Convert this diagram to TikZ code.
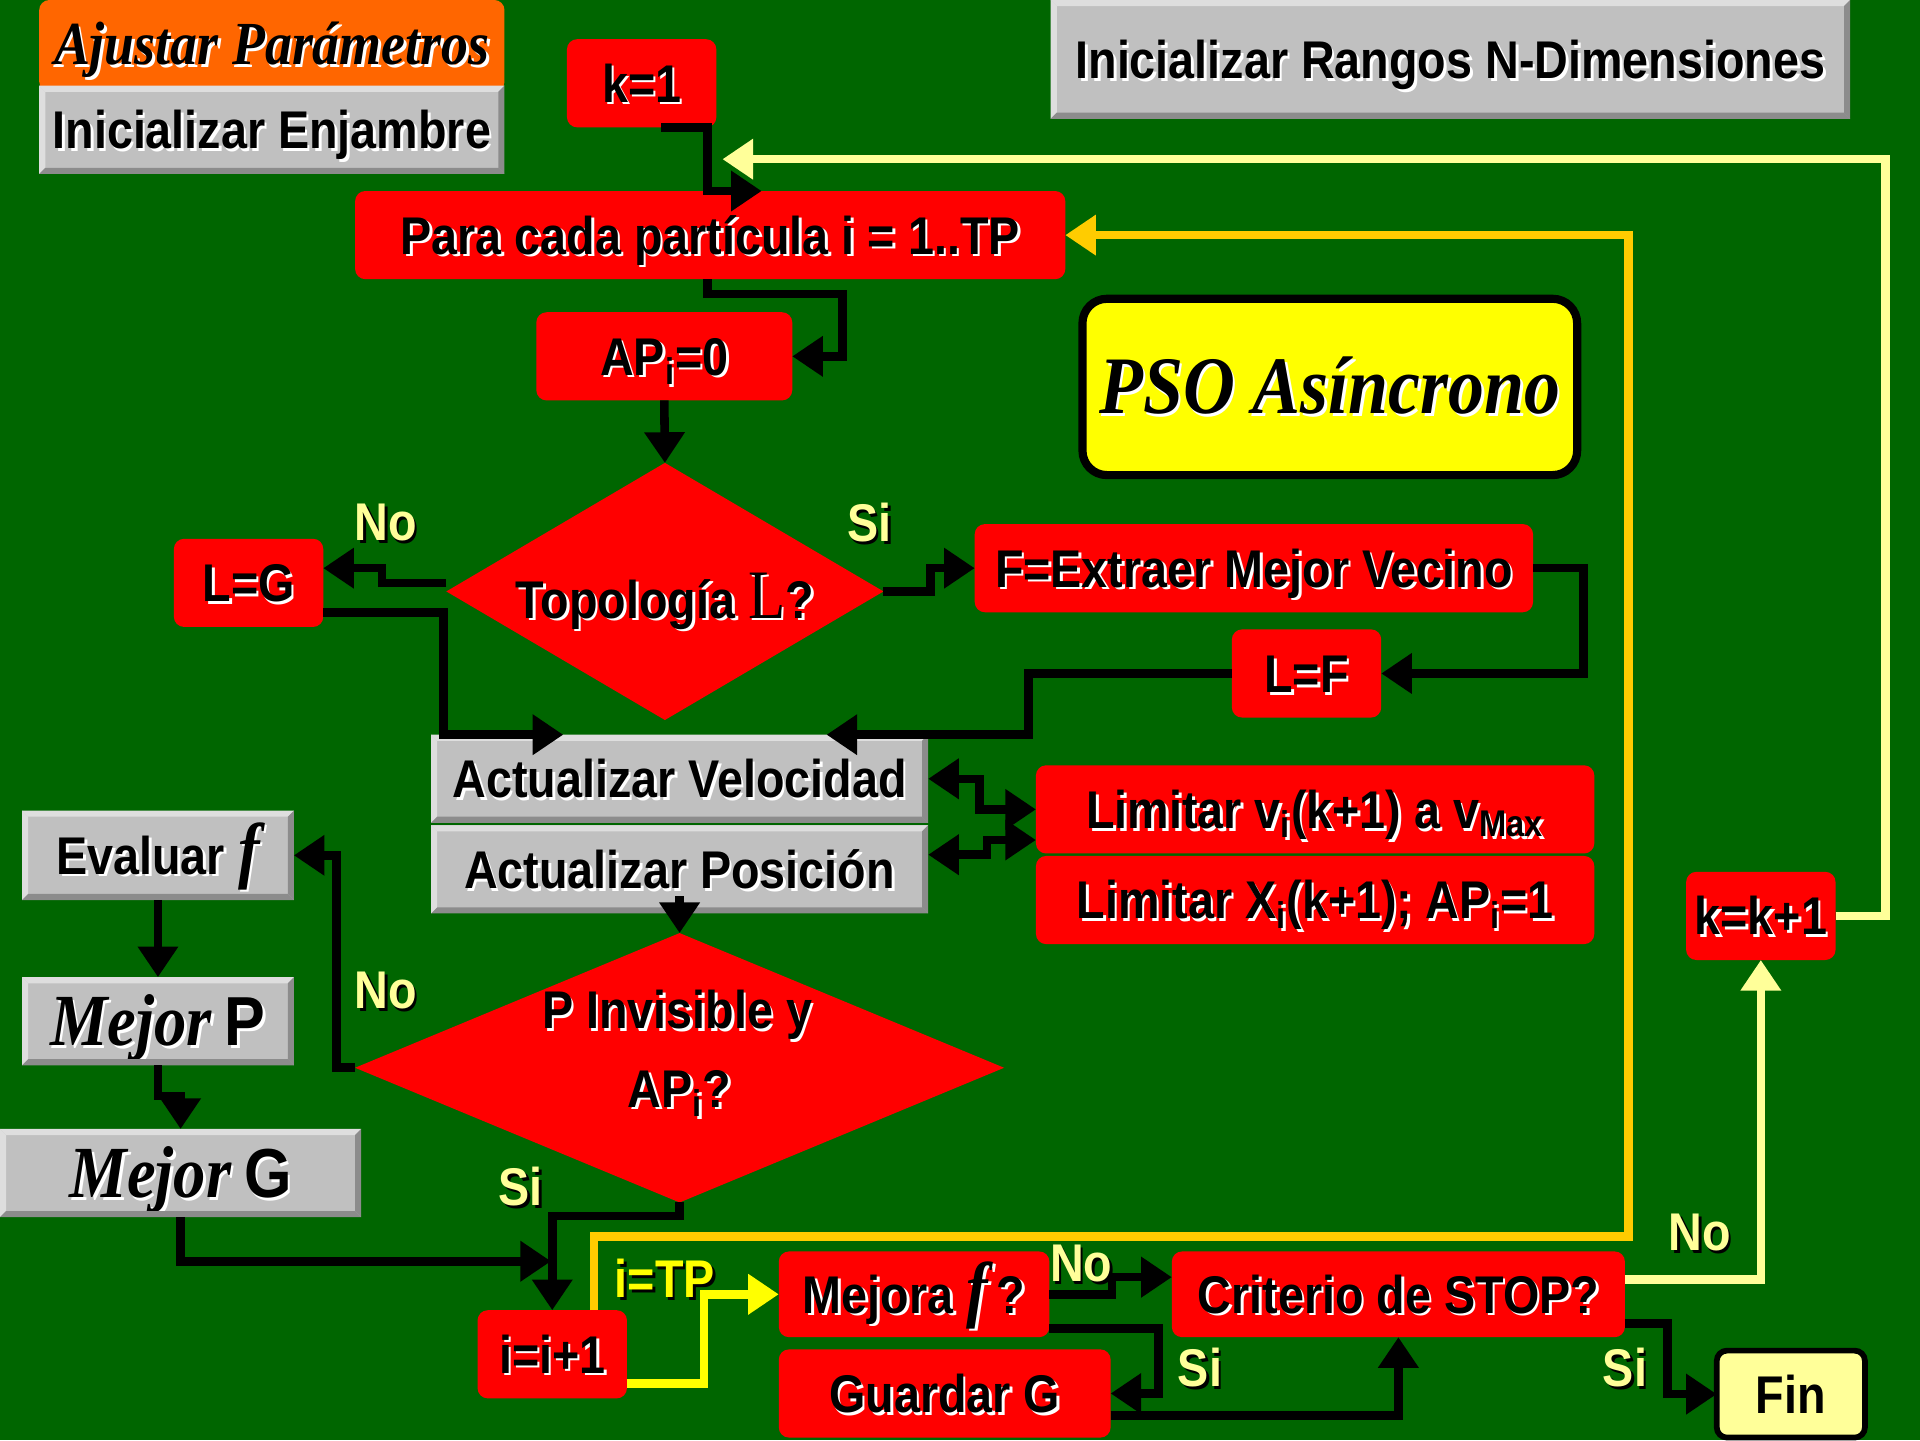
\documentclass[tikz,border=0pt]{standalone}
\usepackage{fontspec}
\setmainfont{Liberation Sans}[FakeStretch=0.88]
\newfontfamily\tnr{Liberation Serif}[FakeStretch=0.88]
\usetikzlibrary{arrows.meta,calc,shapes.geometric}
\definecolor{bg}{HTML}{006600}
\definecolor{rd}{HTML}{FF0000}
\definecolor{gr}{HTML}{C0C0C0}
\definecolor{grl}{HTML}{DEDEDE}
\definecolor{grd}{HTML}{8C8C8C}
\definecolor{org}{HTML}{FF6600}
\definecolor{yl}{HTML}{FFFF00}
\definecolor{lyl}{HTML}{FFFF99}
\definecolor{gold}{HTML}{FFCC00}
\newcommand\sh[1]{\leavevmode\rlap{\kern0.05em\raisebox{-0.05em}{\color{white}#1}}#1}
\newcommand\shk[1]{\leavevmode\rlap{\kern0.05em\raisebox{-0.05em}{\color{black}#1}}#1}
\newcommand\bx[7]{\node[#1,minimum width={(#5-#3)*0.6pt},minimum height={(#6-#4)*0.6pt}] (#2) at ({(#3+#5)/2},{(#4+#6)/2}) {#7};}
\newcommand\bevel[1]{%
 \fill[grl] (#1.north west) -- (#1.north east) -- ($(#1.north east)+(-5,5)$) -- ($(#1.north west)+(5,5)$) -- cycle;
 \fill[grl] (#1.north west) -- ($(#1.north west)+(5,5)$) -- ($(#1.south west)+(5,-5)$) -- (#1.south west) -- cycle;
 \fill[grd] (#1.south west) -- (#1.south east) -- ($(#1.south east)+(-5,-5)$) -- ($(#1.south west)+(5,-5)$) -- cycle;
 \fill[grd] (#1.south east) -- (#1.north east) -- ($(#1.north east)+(-5,5)$) -- ($(#1.south east)+(-5,-5)$) -- cycle;}
\begin{document}
\begin{tikzpicture}[x=0.6pt,y=-0.6pt,
  font=\bfseries\fontsize{26}{30}\selectfont,
  tbox/.style={inner sep=0pt,outer sep=0pt,text height=21pt,text depth=2.4pt},
  rbox/.style={tbox,fill=rd,rounded corners=5pt},
  obox/.style={tbox,fill=org,rounded corners=5pt},
  gbox/.style={tbox,fill=gr},
  big/.style={text height=26pt,text depth=2pt},
  dia/.style={diamond,fill=rd,inner sep=0pt,outer sep=0pt},
  conn/.style={line width=4.2pt,draw=black,-{Triangle[length=15pt,width=19pt]}},
  dconn/.style={line width=4.2pt,draw=black,{Triangle[length=15pt,width=19pt]}-{Triangle[length=15pt,width=19pt]}},
  lbl/.style={text=lyl,inner sep=0pt}]
\fill[bg] (0,0) rectangle (1568,1176);
\useasboundingbox (0,0) rectangle (1568,1176);

% boxes
\bx{obox}{aj}{32}{0}{412}{75}{\sh{\tnr\itshape\fontsize{30}{32}\selectfont Ajustar Parámetros}}
\bx{gbox}{ie}{32}{70}{412}{142}{\sh{Inicializar Enjambre}}
\bevel{ie}
\bx{gbox}{ir}{858}{0}{1511}{97}{\sh{Inicializar Rangos N-Dimensiones}}
\bevel{ir}
\bx{rbox}{k1}{463}{32}{585}{104}{\sh{k=1}}
\bx{rbox}{para}{290}{156}{870}{228}{\sh{Para cada partícula i = 1..TP}}
\bx{rbox}{ap0}{438}{255}{647}{327}{\sh{AP\textsubscript{i}=0}}
\bx{rbox,fill=yl,draw=black,line width=4pt,rounded corners=12pt,text height=28pt,text depth=2pt}{pso}{884}{244}{1288}{388}{\sh{\tnr\itshape\fontsize{40}{42}\selectfont PSO Asíncrono}}
\bx{rbox}{lg}{142}{440}{264}{512}{\sh{L=G}}
\bx{rbox}{fv}{796}{428}{1252}{500}{\sh{F=Extraer Mejor Vecino}}
\bx{rbox}{lf}{1006}{514}{1128}{586}{\sh{L=F}}
\bx{gbox}{av}{352}{600}{758}{672}{\sh{Actualizar Velocidad}}
\bevel{av}
\bx{gbox}{ap}{352}{674}{758}{746}{\sh{Actualizar Posición}}
\bevel{ap}
\bx{rbox}{lv}{846}{625}{1302}{697}{\sh{Limitar v\textsubscript{i}(k+1) a v\textsubscript{Max}}}
\bx{rbox}{lx}{846}{699}{1302}{771}{\sh{Limitar X\textsubscript{i}(k+1); AP\textsubscript{i}=1}}
\bx{gbox}{ef}{18}{662}{240}{735}{\sh{Evaluar {\tnr\itshape\fontsize{36}{36}\selectfont f}}}
\bevel{ef}
\bx{gbox,big}{mp}{18}{798}{240}{870}{\sh{{\tnr\itshape\fontsize{36}{36}\selectfont Mejor} {\fontsize{34}{34}\selectfont P}}}
\bevel{mp}
\bx{gbox,big}{mg}{0}{922}{295}{994}{\sh{{\tnr\itshape\fontsize{36}{36}\selectfont Mejor} {\fontsize{34}{34}\selectfont G}}}
\bevel{mg}
\bx{rbox}{kk}{1377}{712}{1499}{784}{\sh{k=k+1}}
\bx{rbox}{ii}{390}{1070}{512}{1142}{\sh{i=i+1}}
\bx{rbox}{mf}{636}{1022}{857}{1092}{\sh{Mejora {\tnr\itshape\fontsize{36}{36}\selectfont f}\,?}}
\bx{rbox}{gg}{636}{1102}{907}{1174}{\sh{Guardar G}}
\bx{rbox}{crit}{957}{1022}{1327}{1092}{\sh{Criterio de STOP?}}
\bx{rbox,fill=lyl,draw=black,line width=2.8pt}{fin}{1402}{1103}{1523}{1174}{Fin}

% diamonds
\node[dia,minimum width=357*0.6pt,minimum height=210*0.6pt] (d1) at (543,483) {};
\node (t1) at (543,492) {\sh{Topología {\tnr\mdseries\fontsize{34}{34}\selectfont L}?}};
\node[dia,minimum width=530*0.6pt,minimum height=220*0.6pt] (d2) at (555,872) {};
\node (t2a) at (553,830) {\sh{P Invisible y}};
\node (t2b) at (555,894) {\sh{AP\textsubscript{i}?}};

\coordinate (ytip) at (590,130);
\coordinate (jn) at (450,1030);

% connectors
\draw[conn] ($(k1.south)+(16,0)$) -- (578,104) -- (578,156) -- ($(para.north west)+(332,0)$);
\draw[conn,draw=lyl] (kk.east) -- (1540,748) -- (1540,130) -- (ytip);
\draw[conn,draw=gold] ($(ii.north)+(34,0)$) -- (485,1010) -- (1330,1010) -- (1330,192) -- (para.east);
\draw[conn] ($(para.south)+(-2,0)$) -- (578,240) -- (688,240) -- (688,291) -- (ap0.east);
\draw[conn] (ap0.south) -- (d1.north);
\draw[conn] ($(d1.west)+(0,-7)$) -- (312,476) -- (312,464) -- ($(lg.east)+(0,-12)$);
\draw[conn] ($(lg.east)+(0,24)$) -- (362,500) -- (362,600) -- ($(av.north west)+(108,0)$);
\draw[conn] (d1.east) -- (760,483) -- (760,464) -- (fv.west);
\draw[conn] (fv.east) -- (1293,464) -- (1293,550) -- (lf.east);
\draw[conn] (lf.west) -- (840,550) -- (840,600) -- ($(av.north west)+(323,0)$);
\draw[dconn] (av.east) -- (800,636) -- (800,661) -- (lv.west);
\draw[dconn] ($(ap.east)+(0,-12)$) -- (806,698) -- (806,686) -- ($(lv.west)+(0,25)$);
\draw[conn] ($(ap.south)+(0,-14)$) -- (d2.north);
\draw[conn] (d2.west) -- (275,872) -- (275,698.5) -- (ef.east);
\draw[conn] (ef.south) -- (mp.north);
\draw[conn] (mp.south) -- ++(0,25) -| (mg.north);
\draw[conn] (mg.south) -- ++(0,36) -- (jn);
\draw[conn] (d2.south) -- ++(0,11) -| (ii.north);
\draw[conn,draw=yl] ($(ii.east)+(0,24)$) -- (575,1130) -- (575,1057) -- (mf.west);
\draw[conn] (mf.east) -- (908,1057) -- (908,1043) -- ($(crit.west)+(0,-14)$);
\draw[conn] ($(mf.east)+(0,28)$) -- (946,1085) -- (946,1138) -- (gg.east);
\draw[conn] ($(gg.east)+(0,18)$) -| (crit.south);
\draw[conn,draw=lyl] ($(crit.east)+(0,-12)$) -| (kk.south);
\draw[conn] ($(crit.east)+(0,24)$) -- (1362,1081) |- (fin.west);

% labels
\node[lbl] (n1) at (315,428) {\shk{No}};
\node[lbl] (s1) at (710,428) {\shk{Si}};
\node[lbl] (n2) at (315,810) {\shk{No}};
\node[lbl] (s2) at (425,970) {\shk{Si}};
\node[lbl,text=yl] (itp) at (543,1045) {\shk{i=TP}};
\node[lbl] (n3) at (883,1033) {\shk{No}};
\node[lbl] (s3) at (980,1118) {\shk{Si}};
\node[lbl] (n4) at (1388,1008) {\shk{No}};
\node[lbl] (s4) at (1327,1118) {\shk{Si}};
\end{tikzpicture}
\end{document}
